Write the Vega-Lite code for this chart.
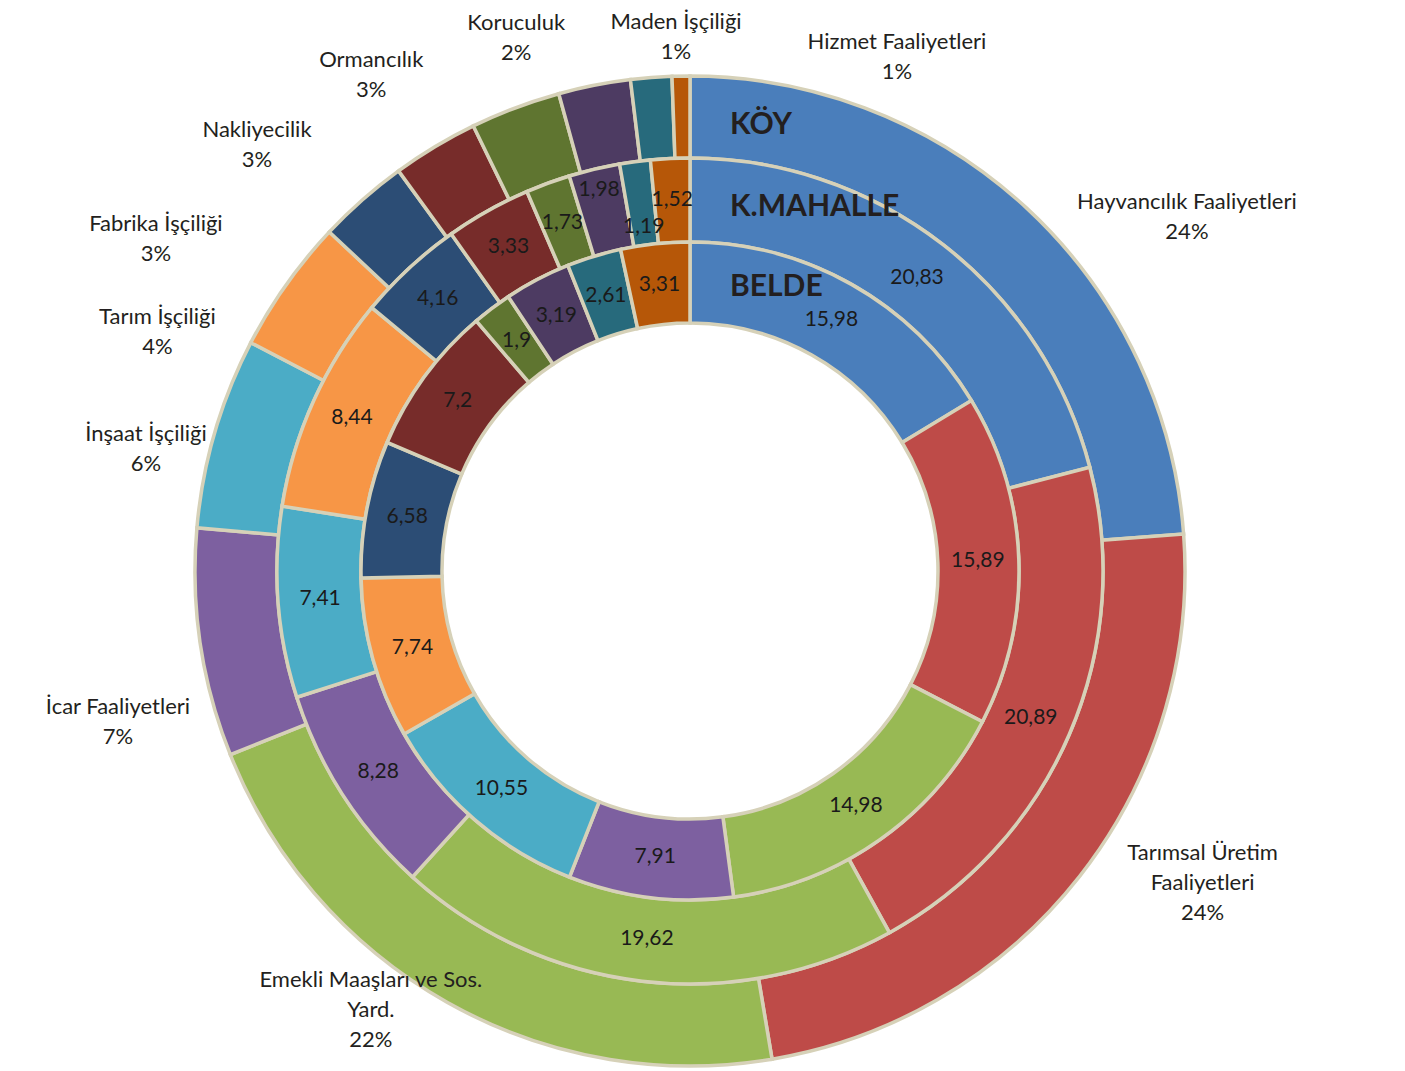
{
  "$schema": "https://vega.github.io/schema/vega-lite/v6.json",
  "width": 1380,
  "height": 1000,
  "autosize": {"type": "none"},
  "padding": {"left": 0, "top": 71, "right": 0, "bottom": 0},
  "background": "white",
  "view": {"stroke": null},
  "config": {
    "locale": {"number": {"decimal": ",", "thousands": ".", "grouping": [3], "currency": ["", ""]}},
    "text": {"font": "Lato"}
  },
  "datasets": {
    "shares": [
      {"ring": "KÖY", "order": 1, "cat": "Hayvancılık Faaliyetleri", "value": 23.81, "callout": "Hayvancılık Faaliyetleri\n24%"},
      {"ring": "KÖY", "order": 2, "cat": "Tarımsal Üretim Faaliyetleri", "value": 23.54, "callout": "Tarımsal Üretim\nFaaliyetleri\n24%"},
      {"ring": "KÖY", "order": 3, "cat": "Emekli Maaşları ve Sos. Yard.", "value": 21.6, "callout": "Emekli Maaşları ve Sos.\nYard.\n22%"},
      {"ring": "KÖY", "order": 4, "cat": "İcar Faaliyetleri", "value": 7.44, "callout": "İcar Faaliyetleri\n7%"},
      {"ring": "KÖY", "order": 5, "cat": "İnşaat İşçiliği", "value": 6.24, "callout": "İnşaat İşçiliği\n6%"},
      {"ring": "KÖY", "order": 6, "cat": "Tarım İşçiliği", "value": 4.38, "callout": "Tarım İşçiliği\n4%"},
      {"ring": "KÖY", "order": 7, "cat": "Fabrika İşçiliği", "value": 2.97, "callout": "Fabrika İşçiliği\n3%"},
      {"ring": "KÖY", "order": 8, "cat": "Nakliyecilik", "value": 2.81, "callout": "Nakliyecilik\n3%"},
      {"ring": "KÖY", "order": 9, "cat": "Ormancılık", "value": 2.94, "callout": "Ormancılık\n3%"},
      {"ring": "KÖY", "order": 10, "cat": "Koruculuk", "value": 2.35, "callout": "Koruculuk\n2%"},
      {"ring": "KÖY", "order": 11, "cat": "Maden İşçiliği", "value": 1.34, "callout": "Maden İşçiliği\n1%"},
      {"ring": "KÖY", "order": 12, "cat": "Hizmet Faaliyetleri", "value": 0.58, "callout": "Hizmet Faaliyetleri\n1%"},
      {"ring": "K.MAHALLE", "order": 1, "cat": "Hayvancılık Faaliyetleri", "value": 20.83},
      {"ring": "K.MAHALLE", "order": 2, "cat": "Tarımsal Üretim Faaliyetleri", "value": 20.89},
      {"ring": "K.MAHALLE", "order": 3, "cat": "Emekli Maaşları ve Sos. Yard.", "value": 19.62},
      {"ring": "K.MAHALLE", "order": 4, "cat": "İcar Faaliyetleri", "value": 8.28},
      {"ring": "K.MAHALLE", "order": 5, "cat": "İnşaat İşçiliği", "value": 7.41},
      {"ring": "K.MAHALLE", "order": 6, "cat": "Tarım İşçiliği", "value": 8.44},
      {"ring": "K.MAHALLE", "order": 7, "cat": "Fabrika İşçiliği", "value": 4.16},
      {"ring": "K.MAHALLE", "order": 8, "cat": "Nakliyecilik", "value": 3.33},
      {"ring": "K.MAHALLE", "order": 9, "cat": "Ormancılık", "value": 1.73},
      {"ring": "K.MAHALLE", "order": 10, "cat": "Koruculuk", "value": 1.98},
      {"ring": "K.MAHALLE", "order": 11, "cat": "Maden İşçiliği", "value": 1.19},
      {"ring": "K.MAHALLE", "order": 12, "cat": "Hizmet Faaliyetleri", "value": 1.52},
      {"ring": "BELDE", "order": 1, "cat": "Hayvancılık Faaliyetleri", "value": 15.98},
      {"ring": "BELDE", "order": 2, "cat": "Tarımsal Üretim Faaliyetleri", "value": 15.89},
      {"ring": "BELDE", "order": 3, "cat": "Emekli Maaşları ve Sos. Yard.", "value": 14.98},
      {"ring": "BELDE", "order": 4, "cat": "İcar Faaliyetleri", "value": 7.91},
      {"ring": "BELDE", "order": 5, "cat": "İnşaat İşçiliği", "value": 10.55},
      {"ring": "BELDE", "order": 6, "cat": "Tarım İşçiliği", "value": 7.74},
      {"ring": "BELDE", "order": 7, "cat": "Fabrika İşçiliği", "value": 6.58},
      {"ring": "BELDE", "order": 8, "cat": "Nakliyecilik", "value": 7.2},
      {"ring": "BELDE", "order": 9, "cat": "Ormancılık", "value": 1.9},
      {"ring": "BELDE", "order": 10, "cat": "Koruculuk", "value": 3.19},
      {"ring": "BELDE", "order": 11, "cat": "Maden İşçiliği", "value": 2.61},
      {"ring": "BELDE", "order": 12, "cat": "Hizmet Faaliyetleri", "value": 3.31}
    ]
  },
  "data": {"name": "shares"},
  "layer": [
    {
      "transform": [{"filter": "datum.ring === 'KÖY'"}],
      "layer": [
        {
          "mark": {"type": "arc", "radius": 495, "radius2": 413, "stroke": "#d6d1b8", "strokeWidth": 3.5},
          "encoding": {
            "theta": {"field": "value", "type": "quantitative", "stack": true},
            "order": {"field": "order", "type": "quantitative"},
            "color": {
              "field": "cat", "type": "nominal", "legend": null,
              "scale": {
                "domain": ["Hayvancılık Faaliyetleri", "Tarımsal Üretim Faaliyetleri", "Emekli Maaşları ve Sos. Yard.", "İcar Faaliyetleri", "İnşaat İşçiliği", "Tarım İşçiliği", "Fabrika İşçiliği", "Nakliyecilik", "Ormancılık", "Koruculuk", "Maden İşçiliği", "Hizmet Faaliyetleri"],
                "range": ["#4a7ebb", "#be4b48", "#98b954", "#7d60a0", "#4bacc6", "#f79646", "#2c4d75", "#772c2a", "#5f7530", "#4d3b62", "#276a7c", "#b65708"]
              }
            }
          }
        },
        {
          "transform": [{"filter": "datum.order === 1"}],
          "mark": {"type": "text", "radius": 446, "dx": 40, "align": "left", "baseline": "middle", "fontSize": 30, "fontWeight": "bold", "color": "#231f20"},
          "encoding": {
            "theta": {"datum": 0, "type": "quantitative"},
            "text": {"field": "ring"}
          }
        }
      ]
    },
    {
      "transform": [{"filter": "datum.ring === 'K.MAHALLE'"}],
      "layer": [
        {
          "mark": {"type": "arc", "radius": 413, "radius2": 329, "stroke": "#d6d1b8", "strokeWidth": 3.5},
          "encoding": {
            "theta": {"field": "value", "type": "quantitative", "stack": true},
            "order": {"field": "order", "type": "quantitative"},
            "color": {"field": "cat", "type": "nominal", "legend": null}
          }
        },
        {
          "mark": {"type": "text", "radius": 371, "fontSize": 21, "color": "#1a1a1a"},
          "encoding": {
            "theta": {"field": "value", "type": "quantitative", "stack": true},
            "order": {"field": "order", "type": "quantitative"},
            "detail": {"field": "cat"},
            "text": {"condition": {"test": "datum.order === 10 || datum.order === 11", "value": ""}, "field": "value", "type": "quantitative", "format": ".2~f"}
          }
        },
        {
          "mark": {"type": "text", "radius": 392, "fontSize": 21, "color": "#1a1a1a"},
          "encoding": {
            "theta": {"field": "value", "type": "quantitative", "stack": true},
            "order": {"field": "order", "type": "quantitative"},
            "detail": {"field": "cat"},
            "text": {"condition": {"test": "datum.order !== 10", "value": ""}, "field": "value", "type": "quantitative", "format": ".2~f"}
          }
        },
        {
          "mark": {"type": "text", "radius": 347, "fontSize": 21, "color": "#1a1a1a"},
          "encoding": {
            "theta": {"field": "value", "type": "quantitative", "stack": true},
            "order": {"field": "order", "type": "quantitative"},
            "detail": {"field": "cat"},
            "text": {"condition": {"test": "datum.order !== 11", "value": ""}, "field": "value", "type": "quantitative", "format": ".2~f"}
          }
        },
        {
          "transform": [{"filter": "datum.order === 1"}],
          "mark": {"type": "text", "radius": 364, "dx": 40, "align": "left", "baseline": "middle", "fontSize": 30, "fontWeight": "bold", "color": "#231f20"},
          "encoding": {
            "theta": {"datum": 0, "type": "quantitative"},
            "text": {"field": "ring"}
          }
        }
      ]
    },
    {
      "transform": [{"filter": "datum.ring === 'BELDE'"}],
      "layer": [
        {
          "mark": {"type": "arc", "radius": 329, "radius2": 248, "stroke": "#d6d1b8", "strokeWidth": 3.5},
          "encoding": {
            "theta": {"field": "value", "type": "quantitative", "stack": true},
            "order": {"field": "order", "type": "quantitative"},
            "color": {"field": "cat", "type": "nominal", "legend": null}
          }
        },
        {
          "mark": {"type": "text", "radius": 288, "fontSize": 21, "color": "#1a1a1a"},
          "encoding": {
            "theta": {"field": "value", "type": "quantitative", "stack": true},
            "order": {"field": "order", "type": "quantitative"},
            "detail": {"field": "cat"},
            "text": {"field": "value", "type": "quantitative", "format": ".2~f"}
          }
        },
        {
          "transform": [{"filter": "datum.order === 1"}],
          "mark": {"type": "text", "radius": 284, "dx": 40, "align": "left", "baseline": "middle", "fontSize": 30, "fontWeight": "bold", "color": "#231f20"},
          "encoding": {
            "theta": {"datum": 0, "type": "quantitative"},
            "text": {"field": "ring"}
          }
        }
      ]
    },
    {
      "transform": [
        {"filter": "datum.ring === 'KÖY'"},
        {"stack": "value", "groupby": [], "sort": [{"field": "order", "order": "ascending"}], "as": ["c0", "c1"]}
      ],
      "mark": {"type": "text", "lineBreak": "\n", "lineHeight": 30, "fontSize": 22, "color": "#231f20", "align": "center", "baseline": "middle"},
      "encoding": {
        "theta": {
          "field": "c0", "type": "quantitative", "stack": null,
          "scale": {"type": "linear", "nice": false, "zero": false, "domain": [0, 23.81, 47.35, 68.95, 76.39, 82.63, 87.01, 89.98, 92.79, 95.73, 98.08, 99.42], "range": [0.932, 2.0735, 3.8039, 4.479, 4.9592, 5.1571, 5.2887, 5.5069, 5.7252, 5.976, 6.2577, 6.6562]}
        },
        "radius": {
          "field": "order", "type": "quantitative",
          "scale": {"type": "linear", "nice": false, "zero": false, "domain": [1, 2, 3, 4, 5, 6, 7, 8, 9, 10, 11, 12], "range": [619, 585, 519, 588, 561, 590, 637, 618, 602, 575, 549, 568]}
        },
        "text": {"field": "callout"}
      }
    }
  ],
  "resolve": {"scale": {"theta": "independent", "radius": "independent"}}
}
